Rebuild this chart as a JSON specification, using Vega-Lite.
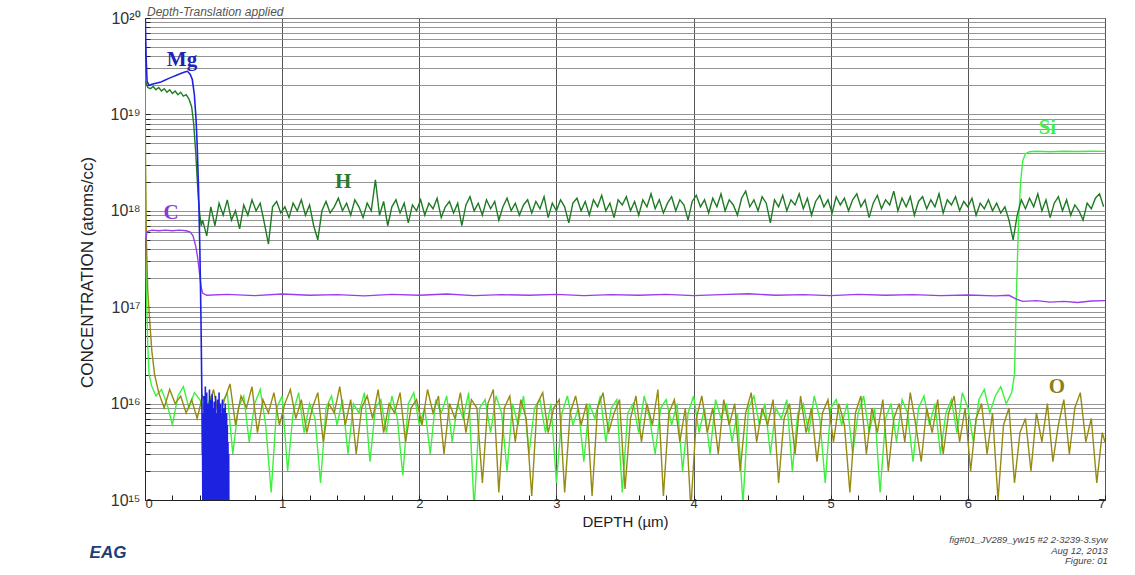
{
"$schema": "https://vega.github.io/schema/vega-lite/v6.json",
"width": 960, "height": 482,
"autosize": {"type": "none"},
"padding": {"left": 145, "top": 18, "right": 30, "bottom": 75},
"background": "white",
"config": {"view": {"stroke": "#333", "strokeWidth": 1}, "font": "Liberation Sans"},
"title": {"text": "Depth-Translation applied", "anchor": "start", "dx": 69, "offset": -9, "fontSize": 12, "fontStyle": "italic", "fontWeight": "normal", "color": "#555", "font": "Liberation Sans"},
"datasets": {
"Mg": [
{"x":0,"y":1.5e20},{"x":0.008,"y":4e19},{"x":0.015,"y":2.2e19},{"x":0.03,"y":2.0e19},{"x":0.05,"y":2.05e19},{"x":0.08,"y":2.1e19},{"x":0.11,"y":2.15e19},{"x":0.14,"y":2.25e19},{"x":0.17,"y":2.35e19},{"x":0.2,"y":2.45e19},{"x":0.23,"y":2.55e19},{"x":0.26,"y":2.65e19},{"x":0.29,"y":2.75e19},{"x":0.31,"y":2.8e19},{"x":0.33,"y":2.6e19},{"x":0.345,"y":2.3e19},{"x":0.36,"y":1.6e19},{"x":0.372,"y":9e18},{"x":0.38,"y":5e18},{"x":0.39,"y":1.8e18},{"x":0.4,"y":4e17},{"x":0.408,"y":8e16},{"x":0.414,"y":1.5e16},{"x":0.418,"y":3e15},
{"x":0.42,"y":3e15},{"x":0.4225,"y":5e14},{"x":0.425,"y":8e15},{"x":0.4275,"y":6e14},{"x":0.43,"y":1.2e16},{"x":0.4325,"y":5e14},{"x":0.435,"y":5e15},{"x":0.4375,"y":7e14},{"x":0.44,"y":1.5e16},{"x":0.4425,"y":5e14},{"x":0.445,"y":9e15},{"x":0.4475,"y":6e14},{"x":0.45,"y":1.3e16},{"x":0.4525,"y":5e14},{"x":0.455,"y":4e15},{"x":0.4575,"y":7e14},{"x":0.46,"y":1e16},{"x":0.4625,"y":5e14},{"x":0.465,"y":7e15},{"x":0.4675,"y":6e14},{"x":0.47,"y":1.4e16},{"x":0.4725,"y":5e14},{"x":0.475,"y":6e15},{"x":0.4775,"y":7e14},{"x":0.48,"y":1.1e16},{"x":0.4825,"y":5e14},{"x":0.485,"y":8e15},{"x":0.4875,"y":6e14},{"x":0.49,"y":1.25e16},{"x":0.4925,"y":5e14},{"x":0.495,"y":5e15},{"x":0.4975,"y":7e14},{"x":0.5,"y":9e15},{"x":0.5025,"y":5e14},{"x":0.505,"y":1.05e16},{"x":0.5075,"y":6e14},{"x":0.51,"y":6e15},{"x":0.5125,"y":5e14},{"x":0.515,"y":1.2e16},{"x":0.5175,"y":7e14},{"x":0.52,"y":4e15},{"x":0.5225,"y":5e14},{"x":0.525,"y":8e15},{"x":0.5275,"y":6e14},{"x":0.53,"y":1.1e16},{"x":0.5325,"y":5e14},{"x":0.535,"y":7e15},{"x":0.5375,"y":7e14},{"x":0.54,"y":1.3e16},{"x":0.5425,"y":5e14},{"x":0.545,"y":5e15},{"x":0.5475,"y":6e14},{"x":0.55,"y":1e16},{"x":0.5525,"y":5e14},{"x":0.555,"y":8e15},{"x":0.5575,"y":7e14},{"x":0.56,"y":6e15},{"x":0.5625,"y":5e14},{"x":0.565,"y":1.1e16},{"x":0.5675,"y":6e14},{"x":0.57,"y":4e15},{"x":0.5725,"y":5e14},{"x":0.575,"y":9e15},{"x":0.5775,"y":7e14},{"x":0.58,"y":7e15},{"x":0.5825,"y":5e14},{"x":0.585,"y":1e16},{"x":0.5875,"y":6e14},{"x":0.59,"y":5e15},{"x":0.5925,"y":5e14},{"x":0.595,"y":8e15},{"x":0.5975,"y":7e14},{"x":0.6,"y":6e15},{"x":0.6025,"y":5e14},{"x":0.605,"y":4e15},{"x":0.6075,"y":6e14},{"x":0.61,"y":3e15},{"x":0.612,"y":5e14}
],
"C": [
{"x":0,"y":2e17},{"x":0.005,"y":5e17},{"x":0.015,"y":6.1e17},{"x":0.05,"y":6.3e17},{"x":0.1,"y":6.2e17},{"x":0.15,"y":6.3e17},{"x":0.2,"y":6.2e17},{"x":0.25,"y":6.3e17},{"x":0.3,"y":6.2e17},{"x":0.33,"y":6.0e17},{"x":0.35,"y":5.5e17},{"x":0.37,"y":4.3e17},{"x":0.385,"y":3.2e17},{"x":0.4,"y":2.1e17},{"x":0.41,"y":1.6e17},{"x":0.42,"y":1.4e17},{"x":0.45,"y":1.33e17},{"x":0.6,"y":1.36e17},{"x":0.8,"y":1.32e17},{"x":1.0,"y":1.37e17},{"x":1.2,"y":1.33e17},{"x":1.4,"y":1.35e17},{"x":1.6,"y":1.31e17},{"x":1.8,"y":1.36e17},{"x":2.0,"y":1.33e17},{"x":2.2,"y":1.37e17},{"x":2.4,"y":1.32e17},{"x":2.6,"y":1.35e17},{"x":2.8,"y":1.33e17},{"x":3.0,"y":1.36e17},{"x":3.2,"y":1.32e17},{"x":3.4,"y":1.35e17},{"x":3.6,"y":1.33e17},{"x":3.8,"y":1.36e17},{"x":4.0,"y":1.32e17},{"x":4.2,"y":1.35e17},{"x":4.4,"y":1.38e17},{"x":4.6,"y":1.33e17},{"x":4.8,"y":1.35e17},{"x":5.0,"y":1.32e17},{"x":5.2,"y":1.36e17},{"x":5.4,"y":1.33e17},{"x":5.6,"y":1.35e17},{"x":5.8,"y":1.32e17},{"x":6.0,"y":1.34e17},{"x":6.2,"y":1.31e17},{"x":6.3,"y":1.33e17},{"x":6.35,"y":1.22e17},{"x":6.4,"y":1.15e17},{"x":6.5,"y":1.17e17},{"x":6.6,"y":1.13e17},{"x":6.7,"y":1.15e17},{"x":6.8,"y":1.12e17},{"x":6.9,"y":1.16e17},{"x":7.0,"y":1.17e17}
],
"H": [
{"x":0.005,"y":2.2e19},{"x":0.02,"y":1.9e19},{"x":0.04,"y":1.85e19},{"x":0.06,"y":1.95e19},{"x":0.08,"y":1.8e19},{"x":0.1,"y":1.9e19},{"x":0.12,"y":1.75e19},{"x":0.14,"y":1.85e19},{"x":0.16,"y":1.7e19},{"x":0.18,"y":1.8e19},{"x":0.2,"y":1.65e19},{"x":0.22,"y":1.75e19},{"x":0.24,"y":1.6e19},{"x":0.26,"y":1.7e19},{"x":0.28,"y":1.55e19},{"x":0.3,"y":1.6e19},{"x":0.32,"y":1.45e19},{"x":0.34,"y":1.2e19},{"x":0.355,"y":8e18},{"x":0.37,"y":4e18},{"x":0.38,"y":2.2e18},{"x":0.39,"y":1.3e18},{"x":0.4,"y":9e17},{"x":0.41,"y":7e17},
{"x":0.42,"y":8e17},{"x":0.45,"y":5.5e17},{"x":0.48,"y":1.1e18},{"x":0.51,"y":7e17},{"x":0.54,"y":1.2e18},{"x":0.57,"y":9e17},{"x":0.6,"y":1.3e18},{"x":0.63,"y":8e17},{"x":0.66,"y":1.0e18},{"x":0.69,"y":6.5e17},{"x":0.72,"y":1.15e18},{"x":0.75,"y":9e17},{"x":0.78,"y":1.3e18},{"x":0.81,"y":1.0e18},{"x":0.84,"y":1.2e18},{"x":0.87,"y":7.5e17},{"x":0.9,"y":4.5e17},{"x":0.93,"y":1.1e18},{"x":0.96,"y":1.25e18},{"x":0.99,"y":9.5e17},{"x":1.02,"y":1.1e18},{"x":1.05,"y":8.5e17},{"x":1.08,"y":1.2e18},{"x":1.11,"y":1.0e18},{"x":1.14,"y":1.3e18},{"x":1.17,"y":9e17},{"x":1.2,"y":1.15e18},{"x":1.23,"y":7e17},{"x":1.26,"y":5e17},{"x":1.29,"y":1.0e18},{"x":1.32,"y":1.25e18},{"x":1.35,"y":9.5e17},{"x":1.38,"y":1.1e18},{"x":1.41,"y":1.35e18},{"x":1.44,"y":1.0e18},{"x":1.47,"y":1.2e18},{"x":1.5,"y":9e17},{"x":1.53,"y":1.3e18},{"x":1.56,"y":1.1e18},{"x":1.59,"y":8.5e17},{"x":1.62,"y":1.2e18},{"x":1.65,"y":1.0e18},{"x":1.68,"y":2.1e18},{"x":1.71,"y":9e17},{"x":1.74,"y":1.25e18},{"x":1.77,"y":7e17},{"x":1.8,"y":1.1e18},{"x":1.83,"y":1.3e18},{"x":1.86,"y":9.5e17},{"x":1.89,"y":1.2e18},{"x":1.92,"y":7.5e17},{"x":1.95,"y":1.15e18},{"x":1.98,"y":1.0e18},{"x":2.01,"y":1.3e18},{"x":2.04,"y":9e17},{"x":2.07,"y":1.2e18},{"x":2.1,"y":1.05e18},{"x":2.13,"y":1.35e18},{"x":2.16,"y":8.5e17},{"x":2.19,"y":1.1e18},{"x":2.22,"y":1.25e18},{"x":2.25,"y":9.5e17},{"x":2.28,"y":1.2e18},{"x":2.31,"y":7e17},{"x":2.34,"y":1.15e18},{"x":2.37,"y":1.4e18},{"x":2.4,"y":1.0e18},{"x":2.43,"y":1.2e18},{"x":2.46,"y":9e17},{"x":2.49,"y":1.3e18},{"x":2.52,"y":1.05e18},{"x":2.55,"y":1.25e18},{"x":2.58,"y":8e17},{"x":2.61,"y":1.1e18},{"x":2.64,"y":1.35e18},{"x":2.67,"y":1.0e18},{"x":2.7,"y":1.2e18},{"x":2.73,"y":9e17},{"x":2.76,"y":1.15e18},{"x":2.79,"y":1.3e18},{"x":2.82,"y":9.5e17},{"x":2.85,"y":1.25e18},{"x":2.88,"y":1.05e18},{"x":2.91,"y":1.4e18},{"x":2.94,"y":8.5e17},{"x":2.97,"y":1.2e18},{"x":3.0,"y":1.0e18},{"x":3.03,"y":1.3e18},{"x":3.06,"y":1.1e18},{"x":3.09,"y":7.5e17},{"x":3.12,"y":1.2e18},{"x":3.15,"y":1.35e18},{"x":3.18,"y":1.0e18},{"x":3.21,"y":1.25e18},{"x":3.24,"y":9e17},{"x":3.27,"y":1.3e18},{"x":3.3,"y":1.1e18},{"x":3.33,"y":1.45e18},{"x":3.36,"y":1.0e18},{"x":3.39,"y":1.2e18},{"x":3.42,"y":8.5e17},{"x":3.45,"y":1.3e18},{"x":3.48,"y":1.15e18},{"x":3.51,"y":1.4e18},{"x":3.54,"y":1.0e18},{"x":3.57,"y":1.25e18},{"x":3.6,"y":9e17},{"x":3.63,"y":1.3e18},{"x":3.66,"y":1.1e18},{"x":3.69,"y":1.5e18},{"x":3.72,"y":1.05e18},{"x":3.75,"y":1.3e18},{"x":3.78,"y":9.5e17},{"x":3.81,"y":1.2e18},{"x":3.84,"y":1.4e18},{"x":3.87,"y":1.0e18},{"x":3.9,"y":1.3e18},{"x":3.93,"y":1.15e18},{"x":3.96,"y":8e17},{"x":3.99,"y":1.25e18},{"x":4.02,"y":1.45e18},{"x":4.05,"y":1.1e18},{"x":4.08,"y":1.3e18},{"x":4.11,"y":9.5e17},{"x":4.14,"y":1.35e18},{"x":4.17,"y":1.1e18},{"x":4.2,"y":1.5e18},{"x":4.23,"y":1.0e18},{"x":4.26,"y":1.3e18},{"x":4.29,"y":1.15e18},{"x":4.32,"y":9e17},{"x":4.35,"y":1.35e18},{"x":4.38,"y":1.6e18},{"x":4.41,"y":1.1e18},{"x":4.44,"y":1.3e18},{"x":4.47,"y":1.0e18},{"x":4.5,"y":1.4e18},{"x":4.53,"y":1.2e18},{"x":4.56,"y":7.5e17},{"x":4.59,"y":1.3e18},{"x":4.62,"y":1.1e18},{"x":4.65,"y":1.45e18},{"x":4.68,"y":1.0e18},{"x":4.71,"y":1.3e18},{"x":4.74,"y":1.15e18},{"x":4.77,"y":1.5e18},{"x":4.8,"y":1.05e18},{"x":4.83,"y":1.35e18},{"x":4.86,"y":9e17},{"x":4.89,"y":1.25e18},{"x":4.92,"y":1.45e18},{"x":4.95,"y":1.1e18},{"x":4.98,"y":1.3e18},{"x":5.01,"y":9.5e17},{"x":5.04,"y":1.4e18},{"x":5.07,"y":1.15e18},{"x":5.1,"y":1.35e18},{"x":5.13,"y":1.0e18},{"x":5.16,"y":1.3e18},{"x":5.19,"y":1.5e18},{"x":5.22,"y":1.1e18},{"x":5.25,"y":1.3e18},{"x":5.28,"y":8.5e17},{"x":5.31,"y":1.2e18},{"x":5.34,"y":1.45e18},{"x":5.37,"y":1.05e18},{"x":5.4,"y":1.3e18},{"x":5.43,"y":1.15e18},{"x":5.46,"y":1.6e18},{"x":5.49,"y":1.0e18},{"x":5.52,"y":1.35e18},{"x":5.55,"y":1.1e18},{"x":5.58,"y":1.4e18},{"x":5.61,"y":9e17},{"x":5.64,"y":1.25e18},{"x":5.67,"y":1.4e18},{"x":5.7,"y":1.05e18},{"x":5.73,"y":1.3e18},{"x":5.76,"y":1.1e18},{"x":5.79,"y":1.5e18},{"x":5.82,"y":9.5e17},{"x":5.85,"y":1.3e18},{"x":5.88,"y":1.15e18},{"x":5.91,"y":1.4e18},{"x":5.94,"y":1.0e18},{"x":5.97,"y":1.25e18},{"x":6.0,"y":1.1e18},{"x":6.03,"y":1.35e18},{"x":6.06,"y":9e17},{"x":6.09,"y":1.2e18},{"x":6.12,"y":1.05e18},{"x":6.15,"y":1.3e18},{"x":6.18,"y":1.0e18},{"x":6.21,"y":1.2e18},{"x":6.24,"y":9.5e17},{"x":6.27,"y":1.1e18},{"x":6.3,"y":8e17},{"x":6.33,"y":5e17},{"x":6.36,"y":9e17},{"x":6.39,"y":1.3e18},{"x":6.42,"y":1.05e18},{"x":6.45,"y":1.35e18},{"x":6.48,"y":1.1e18},{"x":6.51,"y":1.5e18},{"x":6.54,"y":1.0e18},{"x":6.57,"y":1.3e18},{"x":6.6,"y":8.5e17},{"x":6.63,"y":1.2e18},{"x":6.66,"y":1.4e18},{"x":6.69,"y":1.0e18},{"x":6.72,"y":1.3e18},{"x":6.75,"y":9e17},{"x":6.78,"y":1.15e18},{"x":6.81,"y":1.0e18},{"x":6.84,"y":8e17},{"x":6.87,"y":1.2e18},{"x":6.9,"y":1.05e18},{"x":6.93,"y":1.35e18},{"x":6.96,"y":1.5e18},{"x":6.99,"y":1.1e18}
],
"Si": [
{"x":0,"y":2e19},{"x":0.004,"y":1e18},{"x":0.01,"y":1.5e17},{"x":0.02,"y":4e16},{"x":0.03,"y":2e16},{"x":0.05,"y":1.5e16},{"x":0.08,"y":1.2e16},
{"x":0.12,"y":1.4e16},{"x":0.16,"y":1e16},{"x":0.2,"y":6e15},{"x":0.24,"y":1.2e16},{"x":0.28,"y":1.5e16},{"x":0.32,"y":9e15},{"x":0.36,"y":1.3e16},{"x":0.4,"y":1.1e16},{"x":0.44,"y":8e15},{"x":0.48,"y":1.2e16},{"x":0.52,"y":5e15},{"x":0.56,"y":1e16},{"x":0.6,"y":1.3e16},{"x":0.64,"y":3e15},{"x":0.68,"y":9e15},{"x":0.72,"y":1.2e16},{"x":0.76,"y":4e15},{"x":0.8,"y":1e16},{"x":0.84,"y":1.4e16},{"x":0.88,"y":6e15},{"x":0.92,"y":1.2e15},{"x":0.96,"y":9e15},{"x":1.0,"y":1.2e16},{"x":1.04,"y":2e15},{"x":1.08,"y":8e15},{"x":1.12,"y":1.3e16},{"x":1.16,"y":5e15},{"x":1.2,"y":1e16},{"x":1.24,"y":7e15},{"x":1.28,"y":1.5e15},{"x":1.32,"y":9e15},{"x":1.36,"y":1.2e16},{"x":1.4,"y":6e15},{"x":1.44,"y":1.1e16},{"x":1.48,"y":3e15},{"x":1.52,"y":1e16},{"x":1.56,"y":8e15},{"x":1.6,"y":1.3e16},{"x":1.64,"y":2.5e15},{"x":1.68,"y":9e15},{"x":1.72,"y":1.1e16},{"x":1.76,"y":5e15},{"x":1.8,"y":1.2e16},{"x":1.84,"y":7e15},{"x":1.88,"y":1.8e15},{"x":1.92,"y":1e16},{"x":1.96,"y":1.3e16},{"x":2.0,"y":6e15},{"x":2.04,"y":9e15},{"x":2.08,"y":3e15},{"x":2.12,"y":1.1e16},{"x":2.16,"y":8e15},{"x":2.2,"y":1.2e16},{"x":2.24,"y":4e15},{"x":2.28,"y":1e16},{"x":2.32,"y":7e15},{"x":2.36,"y":1.3e16},{"x":2.4,"y":8e14},{"x":2.44,"y":9e15},{"x":2.48,"y":1.1e16},{"x":2.52,"y":5e15},{"x":2.56,"y":1.2e16},{"x":2.6,"y":8e15},{"x":2.64,"y":2e15},{"x":2.68,"y":1e16},{"x":2.72,"y":6e15},{"x":2.76,"y":1.2e16},{"x":2.8,"y":3e15},{"x":2.84,"y":9e15},{"x":2.88,"y":1.1e16},{"x":2.92,"y":5e15},{"x":2.96,"y":1e16},{"x":3.0,"y":1.5e15},{"x":3.04,"y":8e15},{"x":3.08,"y":1.2e16},{"x":3.12,"y":6e15},{"x":3.16,"y":9e15},{"x":3.2,"y":2.5e15},{"x":3.24,"y":1e16},{"x":3.28,"y":7e15},{"x":3.32,"y":1.2e16},{"x":3.36,"y":4e15},{"x":3.4,"y":9e15},{"x":3.44,"y":1.1e16},{"x":3.48,"y":1.2e15},{"x":3.52,"y":8e15},{"x":3.56,"y":1e16},{"x":3.6,"y":5e15},{"x":3.64,"y":1.2e16},{"x":3.68,"y":7e15},{"x":3.72,"y":3e15},{"x":3.76,"y":9e15},{"x":3.8,"y":1.1e16},{"x":3.84,"y":6e15},{"x":3.88,"y":1e16},{"x":3.92,"y":2e15},{"x":3.96,"y":8e15},{"x":4.0,"y":1.2e16},{"x":4.04,"y":5e15},{"x":4.08,"y":9e15},{"x":4.12,"y":3e15},{"x":4.16,"y":1.1e16},{"x":4.2,"y":7e15},{"x":4.24,"y":1e16},{"x":4.28,"y":4e15},{"x":4.32,"y":8e15},{"x":4.36,"y":9e14},{"x":4.4,"y":9e15},{"x":4.44,"y":1.2e16},{"x":4.48,"y":6e15},{"x":4.52,"y":1e16},{"x":4.56,"y":3e15},{"x":4.6,"y":9e15},{"x":4.64,"y":7e15},{"x":4.68,"y":1.1e16},{"x":4.72,"y":2e15},{"x":4.76,"y":8e15},{"x":4.8,"y":1e16},{"x":4.84,"y":5e15},{"x":4.88,"y":1.2e16},{"x":4.92,"y":7e15},{"x":4.96,"y":1.5e15},{"x":5.0,"y":9e15},{"x":5.04,"y":1.1e16},{"x":5.08,"y":6e15},{"x":5.12,"y":1e16},{"x":5.16,"y":3e15},{"x":5.2,"y":8e15},{"x":5.24,"y":1.2e16},{"x":5.28,"y":5e15},{"x":5.32,"y":9e15},{"x":5.36,"y":1.2e15},{"x":5.4,"y":7e15},{"x":5.44,"y":1e16},{"x":5.48,"y":4e15},{"x":5.52,"y":1.1e16},{"x":5.56,"y":8e15},{"x":5.6,"y":2.5e15},{"x":5.64,"y":9e15},{"x":5.68,"y":1.2e16},{"x":5.72,"y":6e15},{"x":5.76,"y":1e16},{"x":5.8,"y":3e15},{"x":5.84,"y":8e15},{"x":5.88,"y":1.1e16},{"x":5.92,"y":5e15},{"x":5.96,"y":1.3e16},{"x":6.0,"y":9e15},{"x":6.04,"y":4e15},{"x":6.08,"y":1.1e16},{"x":6.12,"y":1.4e16},{"x":6.16,"y":8e15},{"x":6.2,"y":1.2e16},{"x":6.24,"y":1.5e16},{"x":6.28,"y":1e16},{"x":6.32,"y":1.3e16},{"x":6.34,"y":2e16},{"x":6.355,"y":1.5e17},{"x":6.37,"y":8e17},{"x":6.385,"y":2e18},{"x":6.4,"y":3.3e18},{"x":6.42,"y":3.9e18},{"x":6.45,"y":4.1e18},{"x":6.5,"y":4.15e18},{"x":6.6,"y":4.1e18},{"x":6.7,"y":4.15e18},{"x":6.8,"y":4.12e18},{"x":6.9,"y":4.15e18},{"x":7.0,"y":4.13e18}
],
"O": [
{"x":0,"y":4e19},{"x":0.004,"y":3e18},{"x":0.01,"y":5e17},{"x":0.02,"y":1.5e17},{"x":0.035,"y":7e16},{"x":0.05,"y":3.5e16},{"x":0.07,"y":2e16},
{"x":0.1,"y":1.3e16},{"x":0.14,"y":9e15},{"x":0.18,"y":1.4e16},{"x":0.22,"y":1e16},{"x":0.26,"y":1.2e16},{"x":0.3,"y":8e15},{"x":0.34,"y":1.1e16},{"x":0.38,"y":7e15},{"x":0.42,"y":1.2e16},{"x":0.46,"y":9e15},{"x":0.5,"y":1.4e16},{"x":0.54,"y":7e15},{"x":0.58,"y":1.1e16},{"x":0.62,"y":1.6e16},{"x":0.66,"y":6e15},{"x":0.7,"y":1.2e16},{"x":0.74,"y":9e15},{"x":0.78,"y":1.5e16},{"x":0.82,"y":5e15},{"x":0.86,"y":1.1e16},{"x":0.9,"y":8e15},{"x":0.94,"y":1.3e16},{"x":0.98,"y":6e15},{"x":1.02,"y":1e16},{"x":1.06,"y":1.4e16},{"x":1.1,"y":7e15},{"x":1.14,"y":1.1e16},{"x":1.18,"y":5e15},{"x":1.22,"y":9e15},{"x":1.26,"y":1.3e16},{"x":1.3,"y":4e15},{"x":1.34,"y":1e16},{"x":1.38,"y":8e15},{"x":1.42,"y":1.5e16},{"x":1.46,"y":6e15},{"x":1.5,"y":1.1e16},{"x":1.54,"y":3e15},{"x":1.58,"y":9e15},{"x":1.62,"y":1.2e16},{"x":1.66,"y":7e15},{"x":1.7,"y":1.4e16},{"x":1.74,"y":5e15},{"x":1.78,"y":1e16},{"x":1.82,"y":8e15},{"x":1.86,"y":1.3e16},{"x":1.9,"y":4e15},{"x":1.94,"y":9e15},{"x":1.98,"y":1.1e16},{"x":2.02,"y":6e15},{"x":2.06,"y":1.4e16},{"x":2.1,"y":8e15},{"x":2.14,"y":1.2e16},{"x":2.18,"y":3e15},{"x":2.22,"y":1e16},{"x":2.26,"y":7e15},{"x":2.3,"y":1.3e16},{"x":2.34,"y":5e15},{"x":2.38,"y":1.1e16},{"x":2.42,"y":9e15},{"x":2.46,"y":1.5e15},{"x":2.5,"y":1e16},{"x":2.54,"y":1.4e16},{"x":2.58,"y":1.2e15},{"x":2.62,"y":9e15},{"x":2.66,"y":1.2e16},{"x":2.7,"y":4e15},{"x":2.74,"y":1.1e16},{"x":2.78,"y":7e15},{"x":2.82,"y":1.1e15},{"x":2.86,"y":1e16},{"x":2.9,"y":1.3e16},{"x":2.94,"y":5e15},{"x":2.98,"y":9e15},{"x":3.02,"y":1.1e16},{"x":3.06,"y":1.2e15},{"x":3.1,"y":8e15},{"x":3.14,"y":1.2e16},{"x":3.18,"y":6e15},{"x":3.22,"y":1e16},{"x":3.26,"y":1.1e15},{"x":3.3,"y":9e15},{"x":3.34,"y":1.3e16},{"x":3.38,"y":5e15},{"x":3.42,"y":8e15},{"x":3.46,"y":1.1e16},{"x":3.5,"y":1.3e15},{"x":3.54,"y":7e15},{"x":3.58,"y":1.2e16},{"x":3.62,"y":4e15},{"x":3.66,"y":1e16},{"x":3.7,"y":6e15},{"x":3.74,"y":1.4e16},{"x":3.78,"y":1.1e15},{"x":3.82,"y":8e15},{"x":3.86,"y":1.1e16},{"x":3.9,"y":4e15},{"x":3.94,"y":9e15},{"x":3.98,"y":8e14},{"x":4.02,"y":7e15},{"x":4.06,"y":1.2e16},{"x":4.1,"y":5e15},{"x":4.14,"y":9e15},{"x":4.18,"y":3e15},{"x":4.22,"y":1.1e16},{"x":4.26,"y":6e15},{"x":4.3,"y":1e16},{"x":4.34,"y":2e15},{"x":4.38,"y":8e15},{"x":4.42,"y":1.3e16},{"x":4.46,"y":4e15},{"x":4.5,"y":9e15},{"x":4.54,"y":6e15},{"x":4.58,"y":1.1e16},{"x":4.62,"y":1.5e15},{"x":4.66,"y":7e15},{"x":4.7,"y":1e16},{"x":4.74,"y":3e15},{"x":4.78,"y":1.2e16},{"x":4.82,"y":5e15},{"x":4.86,"y":9e15},{"x":4.9,"y":2.5e15},{"x":4.94,"y":8e15},{"x":4.98,"y":1.1e16},{"x":5.02,"y":4e15},{"x":5.06,"y":1e16},{"x":5.1,"y":6e15},{"x":5.14,"y":1.2e15},{"x":5.18,"y":8e15},{"x":5.22,"y":1.2e16},{"x":5.26,"y":3e15},{"x":5.3,"y":9e15},{"x":5.34,"y":5e15},{"x":5.38,"y":1.1e16},{"x":5.42,"y":2e15},{"x":5.46,"y":7e15},{"x":5.5,"y":1e16},{"x":5.54,"y":4e15},{"x":5.58,"y":1.3e16},{"x":5.62,"y":6e15},{"x":5.66,"y":2.5e15},{"x":5.7,"y":9e15},{"x":5.74,"y":5e15},{"x":5.78,"y":1.1e16},{"x":5.82,"y":3e15},{"x":5.86,"y":8e15},{"x":5.9,"y":1.2e16},{"x":5.94,"y":4e15},{"x":5.98,"y":9e15},{"x":6.02,"y":2e15},{"x":6.06,"y":7e15},{"x":6.1,"y":1e16},{"x":6.14,"y":3e15},{"x":6.18,"y":8e15},{"x":6.22,"y":1e15},{"x":6.26,"y":6e15},{"x":6.3,"y":9e15},{"x":6.34,"y":1.5e15},{"x":6.38,"y":5e15},{"x":6.42,"y":7e15},{"x":6.46,"y":2e15},{"x":6.5,"y":8e15},{"x":6.54,"y":4e15},{"x":6.58,"y":1e16},{"x":6.62,"y":2.5e15},{"x":6.66,"y":6e15},{"x":6.7,"y":1.1e16},{"x":6.74,"y":3e15},{"x":6.78,"y":9e15},{"x":6.82,"y":1.3e16},{"x":6.86,"y":4e15},{"x":6.9,"y":7e15},{"x":6.94,"y":1.5e15},{"x":6.98,"y":5e15},{"x":7.0,"y":4e15}
],
"labels": [
{"x":0.27,"y":3.7e19,"t":"Mg","c":"Mg"},{"x":0.19,"y":9.6e17,"t":"C","c":"C"},{"x":1.445,"y":2e18,"t":"H","c":"H"},{"x":6.58,"y":7.2e18,"t":"Si","c":"Si"},{"x":6.65,"y":1.48e16,"t":"O","c":"O"}
],
"notes": [
{"x":7.02,"y":3.85e14,"t":"fig#01_JV289_yw15 #2 2-3239-3.syw"},{"x":7.02,"y":2.96e14,"t":"Aug 12, 2013"},{"x":7.02,"y":2.33e14,"t":"Figure: 01"}
],
"logo": [{"x":-0.27,"y":2.8e14,"t":"EAG"}]
},
"encoding": {
"x": {"field": "x", "type": "quantitative", "scale": {"domain": [0, 7], "nice": false},
  "axis": {"title": "DEPTH (µm)", "titleFont": "Liberation Sans", "titleFontSize": 15, "titleFontWeight": "normal", "titleColor": "#222", "titlePadding": 4,
    "values": [0,0.2,0.4,0.6,0.8,1,1.2,1.4,1.6,1.8,2,2.2,2.4,2.6,2.8,3,3.2,3.4,3.6,3.8,4,4.2,4.4,4.6,4.8,5,5.2,5.4,5.6,5.8,6,6.2,6.4,6.6,6.8,7],
    "labelExpr": "datum.value % 1 == 0 ? datum.value : ''", "labelFontSize": 13, "labelColor": "#333", "labelPadding": 2,
    "grid": true, "gridColor": "#555", "gridWidth": 1,
    "gridOpacity": {"condition": {"test": "datum.value % 1 == 0", "value": 1}, "value": 0},
    "tickColor": "#222", "tickSize": -5, "domainColor": "#222"}},
"y": {"field": "y", "type": "quantitative", "scale": {"type": "log", "domain": [1e15, 1e20], "nice": false},
  "axis": {"title": "CONCENTRATION  (atoms/cc)", "titleFont": "Liberation Sans", "titleFontSize": 17, "titleFontWeight": "normal", "titleColor": "#222", "titlePadding": 14, "titleY": 254,
    "values": [1e15,2e15,3e15,4e15,5e15,6e15,7e15,8e15,9e15,1e16,2e16,3e16,4e16,5e16,6e16,7e16,8e16,9e16,1e17,2e17,3e17,4e17,5e17,6e17,7e17,8e17,9e17,1e18,2e18,3e18,4e18,5e18,6e18,7e18,8e18,9e18,1e19,2e19,3e19,4e19,5e19,6e19,7e19,8e19,9e19,1e20],
    "labelExpr": "datum.value == 1e15 ? '10¹⁵' : datum.value == 1e16 ? '10¹⁶' : datum.value == 1e17 ? '10¹⁷' : datum.value == 1e18 ? '10¹⁸' : datum.value == 1e19 ? '10¹⁹' : datum.value == 1e20 ? '10²⁰' : ''",
    "labelFontSize": 16, "labelColor": "#333", "labelPadding": 10,
    "grid": true, "gridColor": "#888", "gridWidth": 1, "gridOpacity": 0.9,
    "tickColor": "#222", "tickSize": -5, "domainColor": "#222"}}
},
"layer": [
{"data": {"name": "Si"}, "mark": {"type": "line", "clip": true, "color": "#3ef03e", "strokeWidth": 1.4}},
{"data": {"name": "O"}, "mark": {"type": "line", "clip": true, "color": "#958a12", "strokeWidth": 1.4}},
{"data": {"name": "C"}, "mark": {"type": "line", "clip": true, "color": "#9a3cf0", "strokeWidth": 1.4}},
{"data": {"name": "H"}, "mark": {"type": "line", "clip": true, "color": "#1f7a24", "strokeWidth": 1.4}},
{"data": {"name": "Mg"}, "mark": {"type": "line", "clip": true, "color": "#1c22e0", "strokeWidth": 1.6}},
{"data": {"name": "labels"}, "mark": {"type": "text", "font": "Liberation Serif", "fontWeight": "bold", "fontSize": 21, "align": "center", "baseline": "middle"},
  "encoding": {"text": {"field": "t"}, "color": {"field": "c", "type": "nominal", "legend": null,
    "scale": {"domain": ["Mg","C","H","Si","O"], "range": ["#2222b8","#8a3ad8","#2a7a2a","#44ee44","#8f7e16"]}}}},
{"data": {"name": "notes"}, "mark": {"type": "text", "font": "Liberation Sans", "fontStyle": "italic", "fontSize": 9.5, "align": "right", "baseline": "middle", "color": "#444"},
  "encoding": {"text": {"field": "t"}}},
{"data": {"name": "logo"}, "mark": {"type": "text", "font": "Liberation Sans", "fontStyle": "italic", "fontWeight": "bold", "fontSize": 17, "align": "center", "baseline": "middle", "color": "#1d3c78"},
  "encoding": {"text": {"field": "t"}}}
]
}
